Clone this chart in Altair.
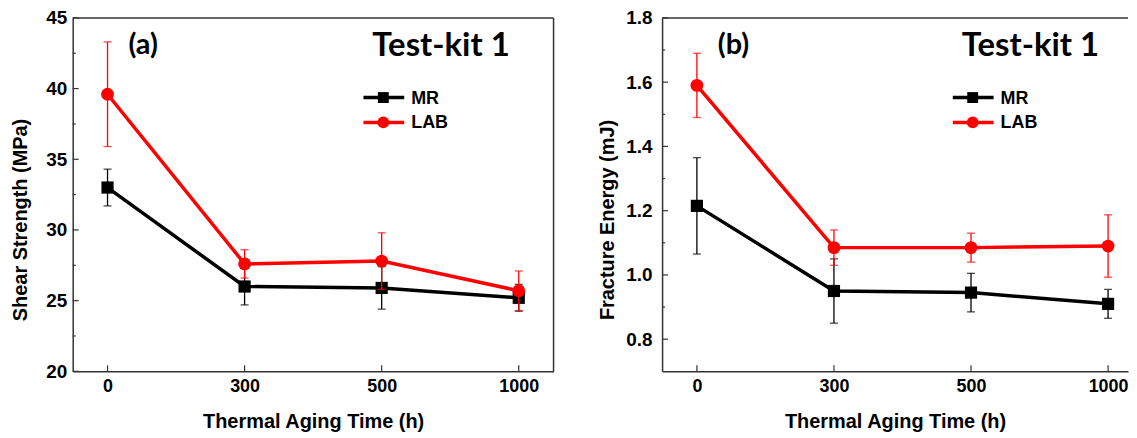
import altair as alt
import pandas as pd

# ---------------- data ----------------
x_labels = ["0", "300", "500", "1000"]
x_index = [0, 1, 2, 3]

shear_mr = [33.0, 26.0, 25.9, 25.2]
shear_mr_err = [1.3, 1.3, 1.5, 0.95]
shear_lab = [39.6, 27.6, 27.8, 25.7]
shear_lab_err = [3.7, 1.0, 2.0, 1.4]

frac_mr = [1.215, 0.95, 0.945, 0.91]
frac_mr_err = [0.15, 0.10, 0.06, 0.045]
frac_lab = [1.59, 1.085, 1.085, 1.09]
frac_lab_err = [0.10, 0.055, 0.045, 0.097]

shear_major = [20, 25, 30, 35, 40, 45]
shear_minor = [22.5, 27.5, 32.5, 37.5, 42.5]
frac_major = [0.8, 1.0, 1.2, 1.4, 1.6, 1.8]
frac_minor = [0.9, 1.1, 1.3, 1.5, 1.7]

series_names = ["MR", "LAB"]
series_colors = ["#000000", "#ff0000"]
series_shapes = ["square", "circle"]
series_sizes = [150, 165]

H = 355
AXIS_COLOR = "#333333"
FONT = "Liberation Sans"
ANN_FONT = "Lato"

label_expr = "[" + ",".join("'%s'" % s for s in x_labels) + "][datum.value]"


def series_df(vals, errs):
    return pd.DataFrame({
        "i": x_index,
        "y": vals,
        "lo": [v - e for v, e in zip(vals, errs)],
        "hi": [v + e for v, e in zip(vals, errs)],
    })


def make_panel(mr, mr_err, lab, lab_err, ydom, major, minor, ytitle, tag,
               width, xmax, title_x, label_pad, right_border):
    x_enc = alt.X(
        "i:Q",
        scale=alt.Scale(domain=[-0.254, xmax], nice=False, zero=False),
        axis=alt.Axis(values=x_index, labelExpr=label_expr, ticks=False, grid=False,
                      domain=True, title="Thermal Aging Time (h)", titleY=50,
                      titleBaseline="middle", labelPadding=6, labelFontSize=18),
    )
    y_axis = alt.Axis(values=major, ticks=False, grid=False, domain=True, title=ytitle,
                      titleX=title_x, titleY=H / 2 + 25, titleBaseline="middle",
                      labelPadding=label_pad, labelFontSize=19,
                      format=".0f" if ydom[1] > 10 else ".1f")
    y_scale = alt.Scale(domain=ydom, nice=False, zero=False)

    def Y(field):
        return alt.Y(field + ":Q", scale=y_scale, axis=y_axis)

    layers = []
    # inward ticks
    layers.append(alt.Chart(pd.DataFrame({"y": major})).mark_rule(
        color=AXIS_COLOR, strokeWidth=1.2).encode(y=Y("y"), x=alt.value(0), x2=alt.value(6)))
    layers.append(alt.Chart(pd.DataFrame({"y": minor})).mark_rule(
        color=AXIS_COLOR, strokeWidth=1.2).encode(y=Y("y"), x=alt.value(0), x2=alt.value(3)))
    layers.append(alt.Chart(pd.DataFrame({"i": x_index})).mark_rule(
        color=AXIS_COLOR, strokeWidth=1.2).encode(x=x_enc, y=alt.value(H), y2=alt.value(H - 6)))
    # frame
    layers.append(alt.Chart(pd.DataFrame({"a": [0]})).mark_rule(
        color=AXIS_COLOR, strokeWidth=1.5).encode(x=alt.value(0), x2=alt.value(width), y=alt.value(0)))
    if right_border:
        layers.append(alt.Chart(pd.DataFrame({"a": [0]})).mark_rule(
            color=AXIS_COLOR, strokeWidth=1.5).encode(x=alt.value(width), y=alt.value(0), y2=alt.value(H)))

    for vals, errs, col, shp, sz in [(mr, mr_err, series_colors[0], series_shapes[0], series_sizes[0]),
                                     (lab, lab_err, series_colors[1], series_shapes[1], series_sizes[1])]:
        base = alt.Chart(series_df(vals, errs))
        layers.append(base.mark_rule(color=col, strokeWidth=1.3).encode(x=x_enc, y=Y("lo"), y2="hi:Q"))
        layers.append(base.mark_tick(color=col, orient="horizontal", size=8, thickness=1.3).encode(x=x_enc, y=Y("lo")))
        layers.append(base.mark_tick(color=col, orient="horizontal", size=8, thickness=1.3).encode(x=x_enc, y=Y("hi")))
        layers.append(base.mark_line(color=col, strokeWidth=3.5).encode(x=x_enc, y=Y("y")))
        layers.append(base.mark_point(color=col, shape=shp, filled=True, size=sz, opacity=1).encode(x=x_enc, y=Y("y")))

    # annotations
    layers.append(alt.Chart(pd.DataFrame({"t": [tag]})).mark_text(
        font=ANN_FONT, fontWeight="bold", fontSize=29, align="left", baseline="alphabetic", color="black"
    ).encode(text="t:N", x=alt.value(56), y=alt.value(36)))
    layers.append(alt.Chart(pd.DataFrame({"t": ["Test-kit 1"]})).mark_text(
        font=ANN_FONT, fontWeight="bold", fontSize=33, align="left", baseline="alphabetic", color="black"
    ).encode(text="t:N", x=alt.value(301), y=alt.value(38)))

    # legend
    for k in range(2):
        ly = 80 + 25 * k
        d = alt.Chart(pd.DataFrame({"t": [series_names[k]]}))
        layers.append(d.mark_rule(color=series_colors[k], strokeWidth=3.5).encode(
            x=alt.value(292), x2=alt.value(333), y=alt.value(ly)))
        layers.append(d.mark_point(color=series_colors[k], shape=series_shapes[k], filled=True,
                                   size=[120, 140][k], opacity=1).encode(x=alt.value(312), y=alt.value(ly)))
        layers.append(d.mark_text(font=FONT, fontWeight="bold", fontSize=18, align="left",
                                  baseline="middle", color="black").encode(
            text="t:N", x=alt.value(340), y=alt.value(ly + 1)))

    return alt.layer(*layers).properties(width=width, height=H)


left = make_panel(shear_mr, shear_mr_err, shear_lab, shear_lab_err, [20, 45],
                  shear_major, shear_minor, "Shear Strength (MPa)", "(a)",
                  483, 3.254, -52, 6, True)
right = make_panel(frac_mr, frac_mr_err, frac_lab, frac_lab_err, [0.7, 1.8],
                   frac_major, frac_minor, "Fracture Energy (mJ)", "(b)",
                   468, -0.254 + 468 / 137.67, -55, 10, False)

chart = alt.hconcat(left, right, spacing=109, bounds="flush").properties(
    padding={"left": 3, "top": 0, "right": 0, "bottom": 0}
).configure_view(stroke=None).configure_axis(
    domainColor=AXIS_COLOR, domainWidth=1.5, labelColor="black", titleColor="black",
    labelFont=FONT, titleFont=FONT, labelFontWeight="bold", titleFontWeight="bold",
    titleFontSize=20
)

chart.save("out.html", embed_options={"renderer": "svg", "actions": False})
